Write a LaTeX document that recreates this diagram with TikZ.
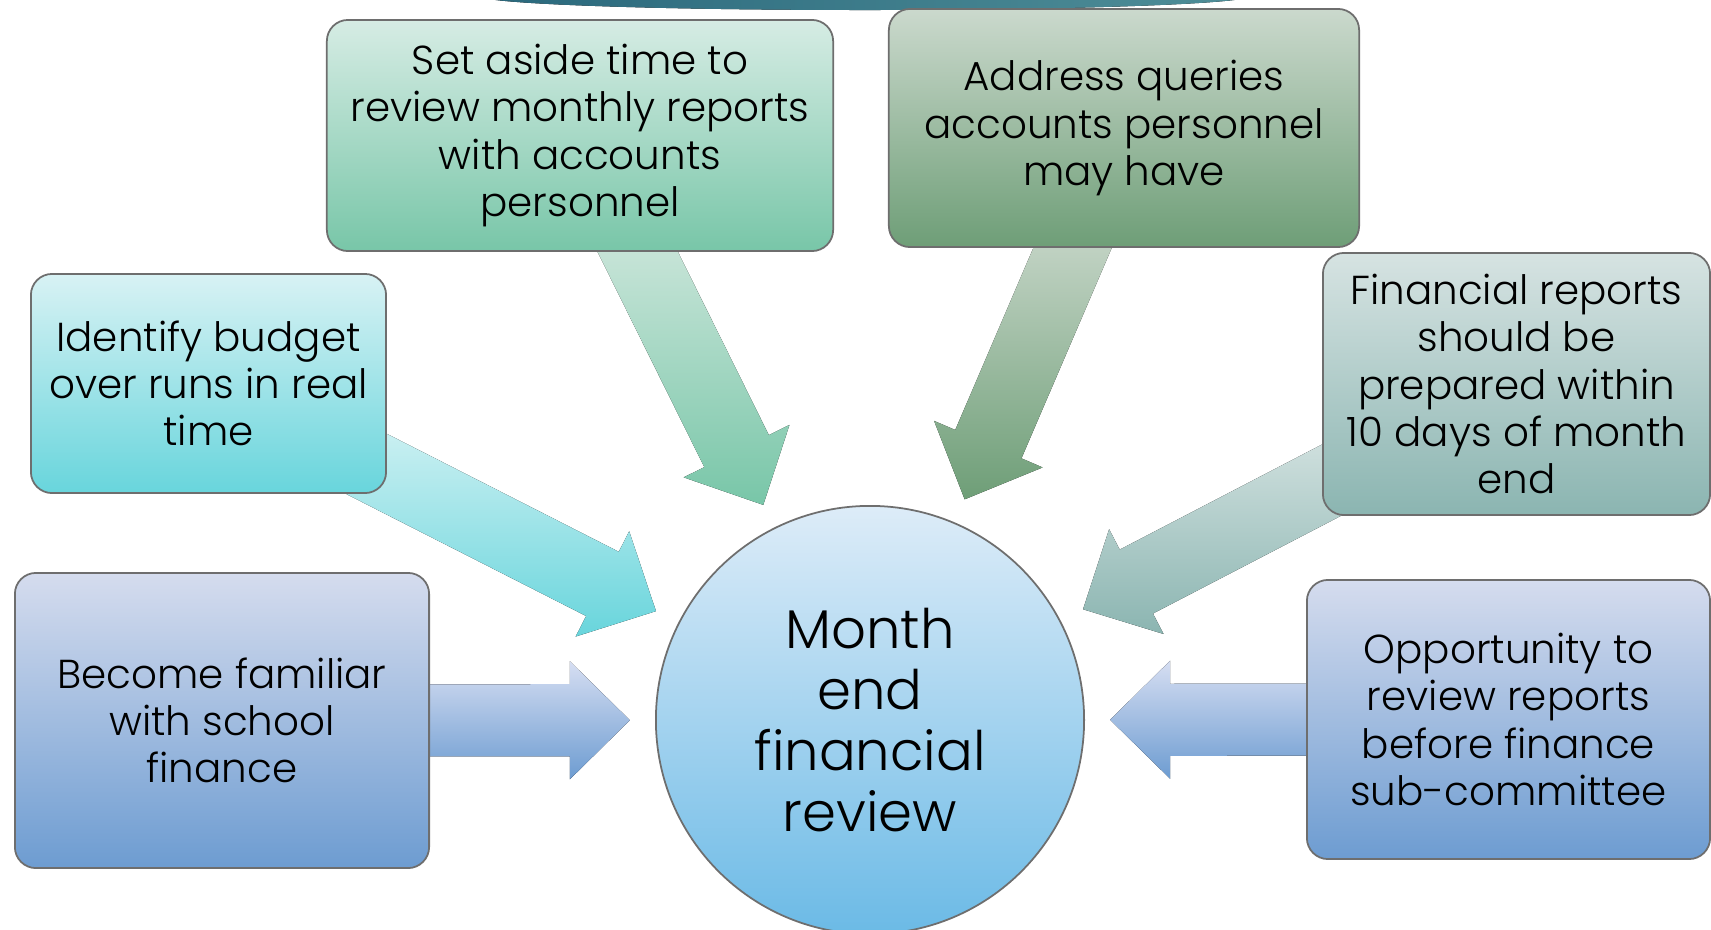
\documentclass[tikz,border=0pt]{standalone}
\usepackage{fontspec}
\setmainfont{Poppins}[UprightFont=* Light]
\usetikzlibrary{calc,backgrounds}

\definecolor{setasideTop}{HTML}{D6ECE4}
\definecolor{setasideBot}{HTML}{78C6A8}
\definecolor{queriesTop}{HTML}{CBD9CD}
\definecolor{queriesBot}{HTML}{6E9E77}
\definecolor{budgetTop}{HTML}{D8F2F4}
\definecolor{budgetBot}{HTML}{68D5DC}
\definecolor{preparedTop}{HTML}{D6E3E2}
\definecolor{preparedBot}{HTML}{8BB5B1}
\definecolor{familiarTop}{HTML}{D5DCEE}
\definecolor{familiarBot}{HTML}{6D9CD1}
\definecolor{reviewTop}{HTML}{DDECF8}
\definecolor{reviewBot}{HTML}{6BBAE6}
\definecolor{arcDark}{HTML}{2A687C}
\definecolor{arcLite}{HTML}{4F8E98}
\definecolor{edge}{HTML}{6E6E6E}

\begin{document}
\begin{tikzpicture}[x=0.01cm,y=-0.01cm]
\tikzset{
    box/.style 2 args={draw=edge, line width=0.5pt, rounded corners=6pt, top color=#1, bottom color=#2,
        align=center, inner sep=0pt, font=\fontsize{11.5pt}{13.4pt}\selectfont},
    hub/.style={circle, draw=edge, line width=0.5pt, top color=reviewTop, bottom color=reviewBot,
        minimum size=4.28cm, align=center, inner sep=0pt, font=\fontsize{15.5pt}{17.4pt}\selectfont}
}
\clip (0,0) rectangle (1711,930);
\fill[left color=arcDark, right color=arcLite] (865,-4) ellipse [x radius=3.85cm, y radius=0.14cm];

\node[hub] (review) at (870,720) {Month\\end\\financial\\review};

\node[box={setasideTop}{setasideBot}, minimum width=5.06cm, minimum height=2.31cm] (setaside) at (580,135.5)
  {Set aside time to\\review monthly reports\\with accounts\\personnel};
\node[box={queriesTop}{queriesBot}, minimum width=4.70cm, minimum height=2.38cm] (queries) at (1124,128)
  {Address queries\\accounts personnel\\may have};
\node[box={budgetTop}{budgetBot}, minimum width=3.55cm, minimum height=2.19cm] (budget) at (208.5,383.5)
  {Identify budget\\over runs in real\\time};
\node[box={preparedTop}{preparedBot}, minimum width=3.87cm, minimum height=2.62cm] (prepared) at (1516.5,384)
  {Financial reports\\should be\\prepared within\\10 days of month\\end};
\node[box={familiarTop}{familiarBot}, minimum width=4.14cm, minimum height=2.95cm] (familiar) at (222,720.5)
  {Become familiar\\with school\\finance};
\node[box={familiarTop}{familiarBot}, minimum width=4.03cm, minimum height=2.79cm] (committee) at (1508.5,719.5)
  {Opportunity to\\review reports\\before finance\\sub-committee};

% block arrows from each box towards the hub
\begin{scope}[on background layer]
\foreach \from/\lite/\dark in {setaside/{rgb,255:red,238;green,243;blue,239}/setasideBot,
    queries/{rgb,255:red,235;green,237;blue,234}/queriesBot,
    budget/{rgb,255:red,240;green,250;blue,250}/budgetBot,
    prepared/{rgb,255:red,238;green,243;blue,242}/preparedBot,
    familiar/{rgb,255:red,214;green,222;blue,242}/familiarBot,
    committee/{rgb,255:red,214;green,222;blue,242}/familiarBot}
{
  \coordinate (tip) at ($(review)!2.4cm!(\from)$);
  \coordinate (base) at ($(tip)!0.6cm!(\from)$);
  \fill[top color=\lite, bottom color=\dark]
    ($(\from)!0.36cm!90:(tip)$) -- ($(base)!0.36cm!90:(tip)$) -- ($(base)!0.59cm!90:(tip)$)
    -- (tip) -- ($(base)!0.59cm!-90:(tip)$) -- ($(base)!0.36cm!-90:(tip)$)
    -- ($(\from)!0.36cm!-90:(tip)$) -- cycle;
}
\end{scope}
\end{tikzpicture}
\end{document}
